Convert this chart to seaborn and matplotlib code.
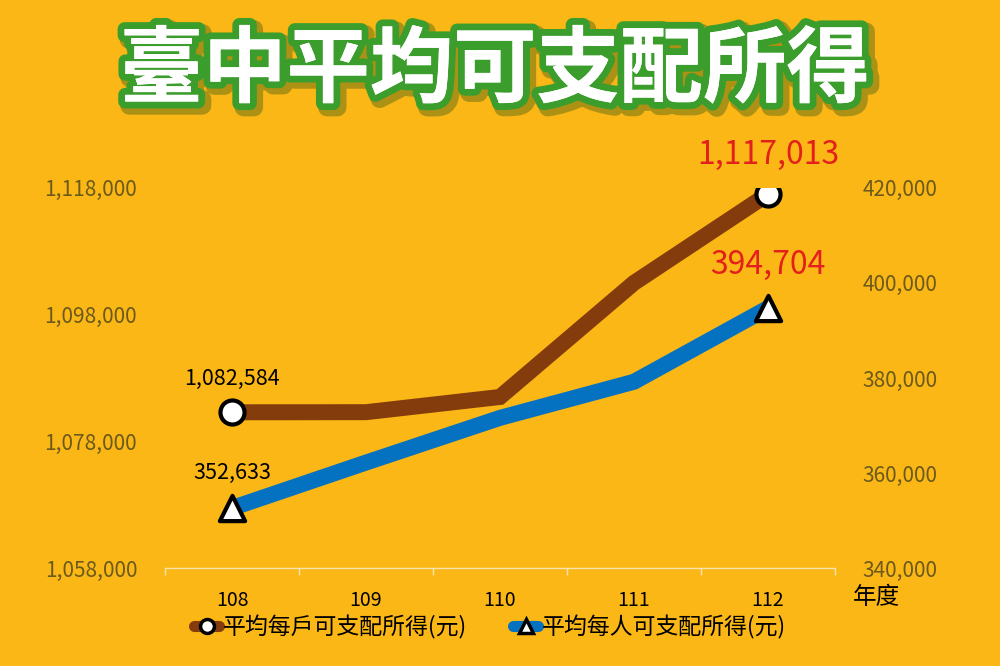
import numpy as np
import matplotlib
matplotlib.use("Agg")
import matplotlib.pyplot as plt
import matplotlib.patheffects as pe
from matplotlib.lines import Line2D
import seaborn as sns

# données
years = ["108", "109", "110", "111", "112"]
household = [1082584, 1082600, 1085000, 1103000, 1117013]
per_person = [352633, 362200, 371600, 379200, 394704]
household_label = "平均每戶可支配所得(元)"
person_label = "平均每人可支配所得(元)"
title = "臺中平均可支配所得"
left_ticks = [1058000, 1078000, 1098000, 1118000]
right_ticks = [340000, 360000, 380000, 400000, 420000]

BG = "#FBB715"
BROWN = "#843C0C"
BLUE = "#0472C1"
TICK_COL = "#6B5A1C"
RED = "#E3201B"

sns.set_theme(style="white")
plt.rcParams["font.family"] = ["Noto Sans CJK TC", "DejaVu Sans"]

fig = plt.figure(figsize=(10, 6.66), dpi=100, facecolor=BG)
ax = fig.add_axes([0.165, 0.147, 0.67, 0.571])
ax.set_facecolor(BG)
ax2 = ax.twinx()

pos = np.arange(len(years))

# courbes
sns.lineplot(x=pos, y=household, ax=ax, color=BROWN, linewidth=11.5)
sns.lineplot(x=pos, y=per_person, ax=ax2, color=BLUE, linewidth=11.5)
for line in ax.lines + ax2.lines:
    line.set_solid_joinstyle("miter")
    line.set_solid_capstyle("butt")

# marqueurs aux extrémités
ends = [0, len(years) - 1]
ax.scatter(pos[ends], np.array(household)[ends], s=300, marker="o",
           facecolor="white", edgecolor="black", linewidth=3, zorder=5)
ax2.scatter(pos[ends], np.array(per_person)[ends], s=330, marker="^",
            facecolor="white", edgecolor="black", linewidth=3, zorder=5)

# étiquettes de données
ax.annotate(f"{household[0]:,}", (pos[0], household[0]), xytext=(0, 24),
            textcoords="offset points", ha="center", va="center",
            fontsize=15.5, color="black", annotation_clip=False)
ax.annotate(f"{household[-1]:,}", (pos[-1], household[-1]), xytext=(0, 28),
            textcoords="offset points", ha="center", va="center",
            fontsize=23, color=RED, annotation_clip=False)
ax2.annotate(f"{per_person[0]:,}", (pos[0], per_person[0]), xytext=(0, 25),
             textcoords="offset points", ha="center", va="center",
             fontsize=15.5, color="black", annotation_clip=False)
ax2.annotate(f"{per_person[-1]:,}", (pos[-1], per_person[-1]), xytext=(0, 31),
             textcoords="offset points", ha="center", va="center",
             fontsize=23, color=RED, annotation_clip=False)

# axes
ax.set_xlim(-0.5, len(years) - 0.5)
ax.set_ylim(left_ticks[0], left_ticks[-1])
ax2.set_ylim(right_ticks[0], right_ticks[-1])
ax.set_xticks(pos)
ax.set_xticklabels(years, fontsize=14, color="black")
ax.set_xticks(np.arange(-0.5, len(years)), minor=True)
ax.tick_params(axis="x", which="major", length=0, pad=16)
ax.tick_params(axis="x", which="minor", length=5, width=1, color="#F6E3B0",
               direction="out", bottom=True)

ax.set_yticks(left_ticks)
ax.set_yticklabels([f"{v:,}" for v in left_ticks], fontsize=15, color=TICK_COL)
ax2.set_yticks(right_ticks)
ax2.set_yticklabels([f"{v:,}" for v in right_ticks], fontsize=15, color=TICK_COL)
ax.tick_params(axis="y", length=0, pad=20)
ax2.tick_params(axis="y", length=0, pad=20)

for a in (ax, ax2):
    for s in ("top", "left", "right", "bottom"):
        a.spines[s].set_visible(False)
    a.grid(False)
ax.spines["bottom"].set_visible(True)
ax.spines["bottom"].set_color("#F6E3B0")
ax.spines["bottom"].set_linewidth(1)

fig.text(0.876, 0.103, "年度", fontsize=17, color="black",
         ha="center", va="center")

# légende
handles = [
    Line2D([], [], color=BROWN, linewidth=8, marker="o", markersize=10,
           markerfacecolor="white", markeredgecolor="black", markeredgewidth=2.5),
    Line2D([], [], color=BLUE, linewidth=8, marker="^", markersize=10,
           markerfacecolor="white", markeredgecolor="black", markeredgewidth=2.5),
]
fig.legend(handles, [household_label, person_label], loc="center",
           bbox_to_anchor=(0.49, 0.058), ncol=2, frameon=False,
           fontsize=16.5, handlelength=1.1, handletextpad=0.15, columnspacing=2.0,
           labelcolor="black")

# titre
fig.text(0.495, 0.893, title, fontsize=60, fontweight="bold", color="white",
         ha="center", va="center",
         path_effects=[
             pe.withStroke(linewidth=13, foreground="#1E4A15", alpha=0.35,
                           offset=(3, -3)),
             pe.withStroke(linewidth=10, foreground="#3A9D2C"),
             pe.Normal(),
         ])

fig.savefig("out.png", dpi=100, facecolor=BG)
